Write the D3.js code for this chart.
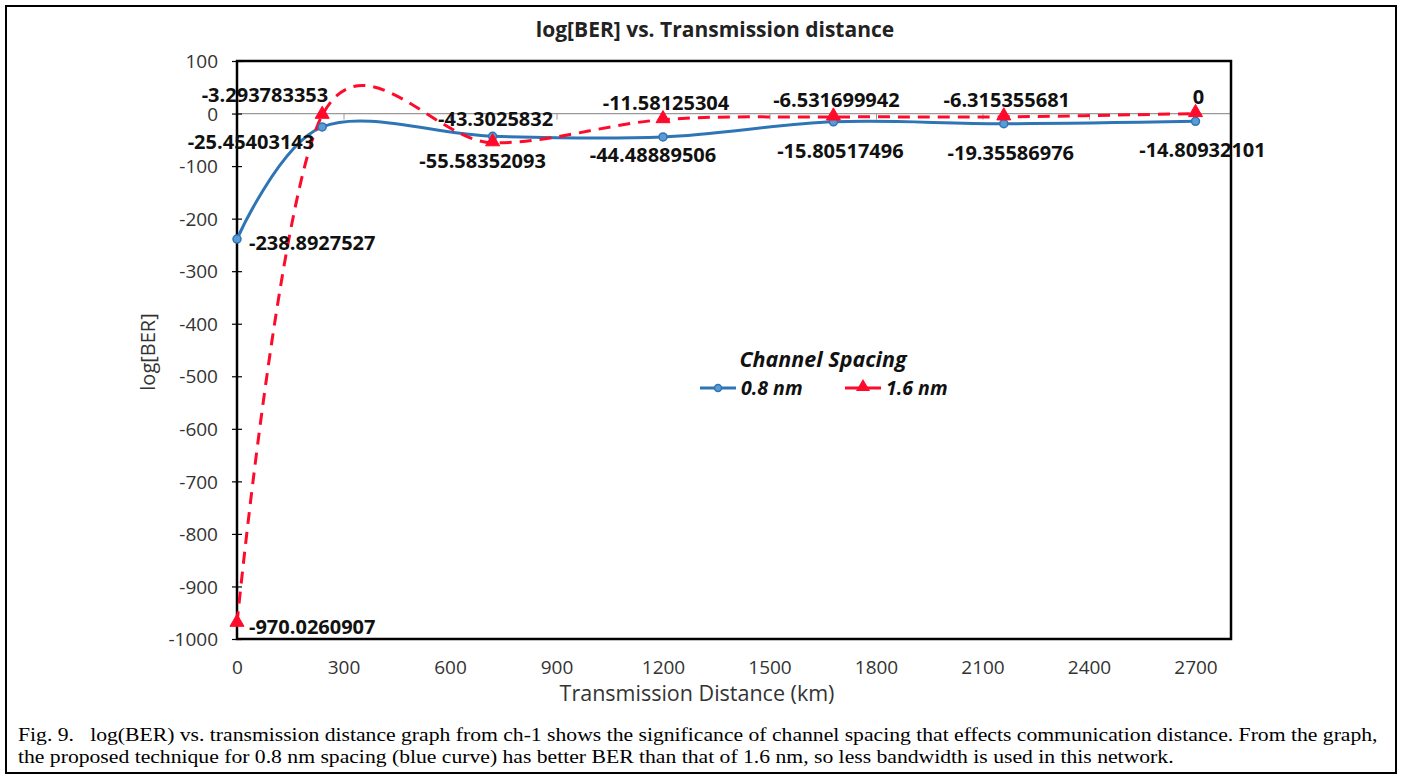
<!DOCTYPE html>
<html>
<head>
<meta charset="utf-8">
<script src="https://cdn.jsdelivr.net/npm/d3@7"></script>
<style>
  body { margin: 0; background: #fff; }
  svg { display: block; }
</style>
</head>
<body>
<svg id="chart" width="1402" height="778"></svg>
<script>
// distances (km) and log[BER]
var distances = [0, 240, 720, 1200, 1680, 2160, 2700]
var ber08 = [-238.8927527, -25.45403143, -43.3025832, -44.48889506, -15.80517496, -19.35586976, -14.80932101]
var ber16 = [-970.0260907, -3.293783353, -55.58352093, -11.58125304, -6.531699942, -6.315355681, 0]
var labels08 = ['-238.8927527', '-25.45403143', '-43.3025832', '-44.48889506', '-15.80517496', '-19.35586976', '-14.80932101']
var labels16 = ['-970.0260907', '-3.293783353', '-55.58352093', '-11.58125304', '-6.531699942', '-6.315355681', '0']
// where each data label sits relative to its point
var place08 = ['right', 'leftBelow', 'above', 'nearBelow', 'below', 'below', 'below']
var place16 = ['right', 'leftAbove', 'nearBelow', 'above', 'above', 'above', 'above']
var xTicks = [0, 300, 600, 900, 1200, 1500, 1800, 2100, 2400, 2700]
var yTicks = [100, 0, -100, -200, -300, -400, -500, -600, -700, -800, -900, -1000]
var seriesNames = ['0.8 nm', '1.6 nm']

var blue = '#2e75b6',
	red = '#ff0a2a',
	font = "'Open Sans', 'DejaVu Sans', sans-serif"

var svg = d3.select('#chart')

var plot = {left: 237, right: 1231, top: 61, bottom: 639}

var x = d3.scaleLinear().domain([0, 2800]).range([plot.left, plot.right])
var y = d3.scaleLinear().domain([-1000, 100]).range([plot.bottom, plot.top])

var plain = function(d){ return String(d) }

// outer figure frame
svg.append('rect')
	.attr('x', 6).attr('y', 6)
	.attr('width', 1390).attr('height', 767)
	.attr('fill', 'none').attr('stroke', '#000').attr('stroke-width', 2)

// title
svg.append('text')
	.attr('x', 715).attr('y', 37)
	.attr('text-anchor', 'middle')
	.attr('font-family', font).attr('font-weight', 'bold').attr('font-size', 21)
	.attr('fill', '#222')
	.text('log[BER] vs. Transmission distance')

// zero line with its ticks
svg.append('line')
	.attr('x1', plot.left).attr('x2', plot.right)
	.attr('y1', y(0)).attr('y2', y(0))
	.attr('stroke', '#9a9a9a').attr('stroke-width', 1.2)

svg.append('g')
	.attr('transform', 'translate(0,' + y(0) + ')')
	.call(d3.axisBottom(x).tickValues(xTicks).tickSize(6).tickFormat(''))
	.call(function(g){
		g.select('.domain').remove()
		g.selectAll('line').attr('stroke', '#9a9a9a')
	})

// x tick labels along the bottom
svg.append('g')
	.attr('transform', 'translate(0,' + plot.bottom + ')')
	.call(d3.axisBottom(x).tickValues(xTicks).tickSize(0).tickPadding(22).tickFormat(plain))
	.call(function(g){
		g.select('.domain').remove()
		g.selectAll('text')
			.attr('font-family', font).attr('font-size', 19).attr('fill', '#333')
	})

// y axis
svg.append('g')
	.attr('transform', 'translate(' + plot.left + ',0)')
	.call(d3.axisLeft(y).tickValues(yTicks).tickSize(5).tickPadding(14).tickFormat(plain))
	.call(function(g){
		g.select('.domain').remove()
		g.selectAll('line').attr('stroke', '#000').attr('x2', 5).attr('x1', -5).attr('stroke-width', 1.2)
		g.selectAll('text')
			.attr('font-family', font).attr('font-size', 19).attr('fill', '#333')
			.attr('dy', '0.35em')
	})

// plot area border
svg.append('rect')
	.attr('x', plot.left).attr('y', plot.top)
	.attr('width', plot.right - plot.left).attr('height', plot.bottom - plot.top)
	.attr('fill', 'none').attr('stroke', '#000').attr('stroke-width', 2.5)

// axis titles
svg.append('text')
	.attr('x', 697).attr('y', 701)
	.attr('text-anchor', 'middle')
	.attr('font-family', font).attr('font-size', 21.5).attr('fill', '#333')
	.text('Transmission Distance (km)')

svg.append('text')
	.attr('transform', 'translate(155,352) rotate(-90)')
	.attr('text-anchor', 'middle')
	.attr('font-family', font).attr('font-size', 20).attr('fill', '#333')
	.text('log[BER]')

// curves
var line = d3.line()
	.x(function(d){ return x(d[0]) })
	.y(function(d){ return y(d[1]) })
	.curve(d3.curveCardinal.tension(0))

var pts08 = distances.map(function(d, i){ return [d, ber08[i]] })
var pts16 = distances.map(function(d, i){ return [d, ber16[i]] })

svg.append('path')
	.attr('d', line(pts08))
	.attr('fill', 'none').attr('stroke', blue).attr('stroke-width', 3)

svg.append('path')
	.attr('d', line(pts16))
	.attr('fill', 'none').attr('stroke', red).attr('stroke-width', 3)
	.attr('stroke-dasharray', '12,8')

var tri = d3.symbol().type(d3.symbolTriangle).size(85)

svg.selectAll('.m08')
	.data(pts08).enter().append('circle')
	.attr('class', 'm08')
	.attr('cx', function(d){ return x(d[0]) })
	.attr('cy', function(d){ return y(d[1]) })
	.attr('r', 4)
	.attr('fill', '#5b9bd5').attr('stroke', blue).attr('stroke-width', 1.5)

svg.selectAll('.m16')
	.data(pts16).enter().append('path')
	.attr('class', 'm16')
	.attr('d', tri)
	.attr('transform', function(d){ return 'translate(' + x(d[0]) + ',' + (y(d[1]) - 1) + ')' })
	.attr('fill', red).attr('stroke', red).attr('stroke-width', 1)

// data labels
var offsets = {
	right: {dx: 12, dy: 4, anchor: 'start'},
	leftBelow: {dx: -8, dy: 15, anchor: 'end'},
	leftAbove: {dx: 6, dy: -20, anchor: 'end'},
	above: {dx: 3, dy: -17, anchor: 'middle'},
	below: {dx: 7, dy: 29, anchor: 'middle'},
	nearBelow: {dx: -10, dy: 18, anchor: 'middle'}
}

function drawLabels(pts, texts, places){
	svg.append('g').selectAll('text')
		.data(pts).enter().append('text')
		.attr('x', function(d, i){ return x(d[0]) + offsets[places[i]].dx })
		.attr('y', function(d, i){ return y(d[1]) + offsets[places[i]].dy })
		.attr('dy', '0.35em')
		.attr('text-anchor', function(d, i){ return offsets[places[i]].anchor })
		.attr('font-family', font).attr('font-weight', 'bold').attr('font-size', 20)
		.attr('fill', '#111')
		.text(function(d, i){ return texts[i] })
}

drawLabels(pts08, labels08, place08)
drawLabels(pts16, labels16, place16)

// legend
var legend = svg.append('g')

legend.append('text')
	.attr('x', 823).attr('y', 367)
	.attr('text-anchor', 'middle')
	.attr('font-family', font).attr('font-weight', 'bold').attr('font-style', 'italic').attr('font-size', 21.5)
	.attr('fill', '#111')
	.text('Channel Spacing')

var legendItems = [
	{name: seriesNames[0], color: blue, x0: 700},
	{name: seriesNames[1], color: red, x0: 845}
]

legendItems.forEach(function(d, i){
	var g = legend.append('g').attr('transform', 'translate(' + d.x0 + ',388)')
	g.append('line')
		.attr('x1', 0).attr('x2', 36).attr('y1', 0).attr('y2', 0)
		.attr('stroke', d.color).attr('stroke-width', 3)
	if(i === 0){
		g.append('circle').attr('cx', 18).attr('cy', 0).attr('r', 3.5)
			.attr('fill', '#5b9bd5').attr('stroke', d.color).attr('stroke-width', 1.5)
	}
	else{
		g.append('path').attr('d', tri).attr('transform', 'translate(18,-1)').attr('fill', d.color)
	}
	g.append('text')
		.attr('x', 41).attr('y', 0).attr('dy', '0.35em')
		.attr('font-family', font).attr('font-weight', 'bold').attr('font-style', 'italic').attr('font-size', 19.5)
		.attr('fill', '#111')
		.text(d.name)
})

// caption
var caption = [
	'Fig. 9.\u00a0\u00a0 log(BER) vs. transmission distance graph from ch-1 shows the significance of channel spacing that effects communication distance. From the graph,',
	'the proposed technique for 0.8 nm spacing (blue curve) has better BER than that of 1.6 nm, so less bandwidth is used in this network.'
]

svg.selectAll('.caption')
	.data(caption).enter().append('text')
	.attr('class', 'caption')
	.attr('transform', function(d, i){ return 'translate(18,' + (741 + i * 22) + ') scale(1.1,1)' })
	.attr('font-family', "'Liberation Serif', 'Times New Roman', serif")
	.attr('font-size', 19.7)
	.attr('fill', '#000')
	.text(function(d){ return d })
</script>
</body>
</html>
